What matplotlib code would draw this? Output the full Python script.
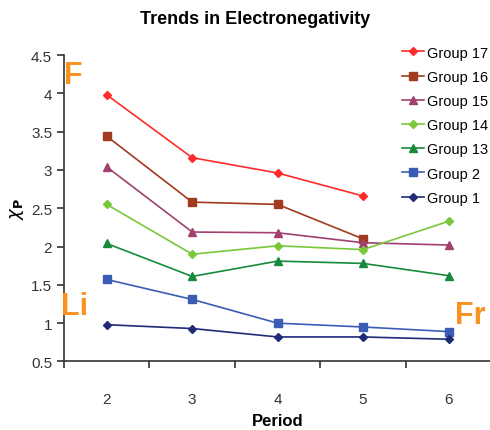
import matplotlib
matplotlib.use('Agg')
import matplotlib.pyplot as plt
from matplotlib.ticker import FixedLocator, NullFormatter

plt.rcParams['font.family'] = ['Liberation Sans', 'DejaVu Sans']

periods = ['2', '3', '4', '5', '6']
group17 = [3.98, 3.16, 2.96, 2.66]
group16 = [3.44, 2.58, 2.55, 2.10]
group15 = [3.04, 2.19, 2.18, 2.05, 2.02]
group14 = [2.55, 1.90, 2.01, 1.96, 2.33]
group13 = [2.04, 1.61, 1.81, 1.78, 1.62]
group2 = [1.57, 1.31, 1.00, 0.95, 0.89]
group1 = [0.98, 0.93, 0.82, 0.82, 0.79]
y_ticks = [0.5, 1, 1.5, 2, 2.5, 3, 3.5, 4, 4.5]

series = [
    ('Group 17', group17, '#FF2A2A', 'D', 4),
    ('Group 16', group16, '#A23A1E', 's', 6),
    ('Group 15', group15, '#A2406F', '^', 6),
    ('Group 14', group14, '#78C83A', 'D', 4),
    ('Group 13', group13, '#178A3C', '^', 6),
    ('Group 2', group2, '#3A5CB5', 's', 6),
    ('Group 1', group1, '#222B78', 'D', 4),
]

fig = plt.figure(figsize=(4.9, 4.31), dpi=100)
ax = fig.add_axes([0.1306, 0.159, 0.872, 0.711])

for name, vals, col, mk, ms in series:
    ax.plot(range(len(vals)), vals, color=col, marker=mk, markersize=ms,
            linewidth=1.2, label=name)

ax.set_xlim(-0.5, 4.5)
ax.set_ylim(0.5, 4.5)
ax.set_yticks(y_ticks)
ax.set_yticklabels(['0.5', '1', '1.5', '2', '2.5', '3', '3.5', '4', '4.5'])

# ticks at category boundaries, labels at centres
ax.xaxis.set_major_locator(FixedLocator([-0.5, 0.5, 1.5, 2.5, 3.5]))
ax.xaxis.set_major_formatter(NullFormatter())
ax.set_xticks(range(len(periods)), minor=True)
ax.set_xticklabels(periods, minor=True)
ax.tick_params(axis='x', which='minor', length=0, pad=22, labelsize=11, labelcolor='#333333')
ax.tick_params(axis='x', which='major', length=5, width=1.2, color='#333333')
ax.tick_params(axis='y', length=5, width=1.2, color='#333333', labelsize=11, labelcolor='#333333')

for s in ['top', 'right']:
    ax.spines[s].set_visible(False)
for s in ['left', 'bottom']:
    ax.spines[s].set_linewidth(1.2)
    ax.spines[s].set_color('#333333')

ax.set_xlabel('Period', fontsize=12, fontweight='bold', labelpad=5)
ax.set_ylabel(r'$\chi_\mathbf{P}$', fontsize=13, labelpad=4)
fig.text(0.52, 0.955, 'Trends in Electronegativity', ha='center', va='center',
         fontsize=13, fontweight='bold')

orange = '#F7931E'
ax.text(-0.5, 4.44, 'F', color=orange, fontsize=22, fontweight='bold',
        ha='left', va='top')
ax.text(-0.54, 1.22, 'Li', color=orange, fontsize=22, fontweight='bold',
        ha='left', va='center')
ax.text(4.08, 1.11, 'Fr', color=orange, fontsize=22, fontweight='bold',
        ha='left', va='center')

ax.legend(loc='upper right', bbox_to_anchor=(1.006, 1.05), frameon=False,
          fontsize=10.5, handlelength=1.5, handletextpad=0.2, labelspacing=0.7,
          borderaxespad=0)

fig.savefig('out.png', dpi=100)
